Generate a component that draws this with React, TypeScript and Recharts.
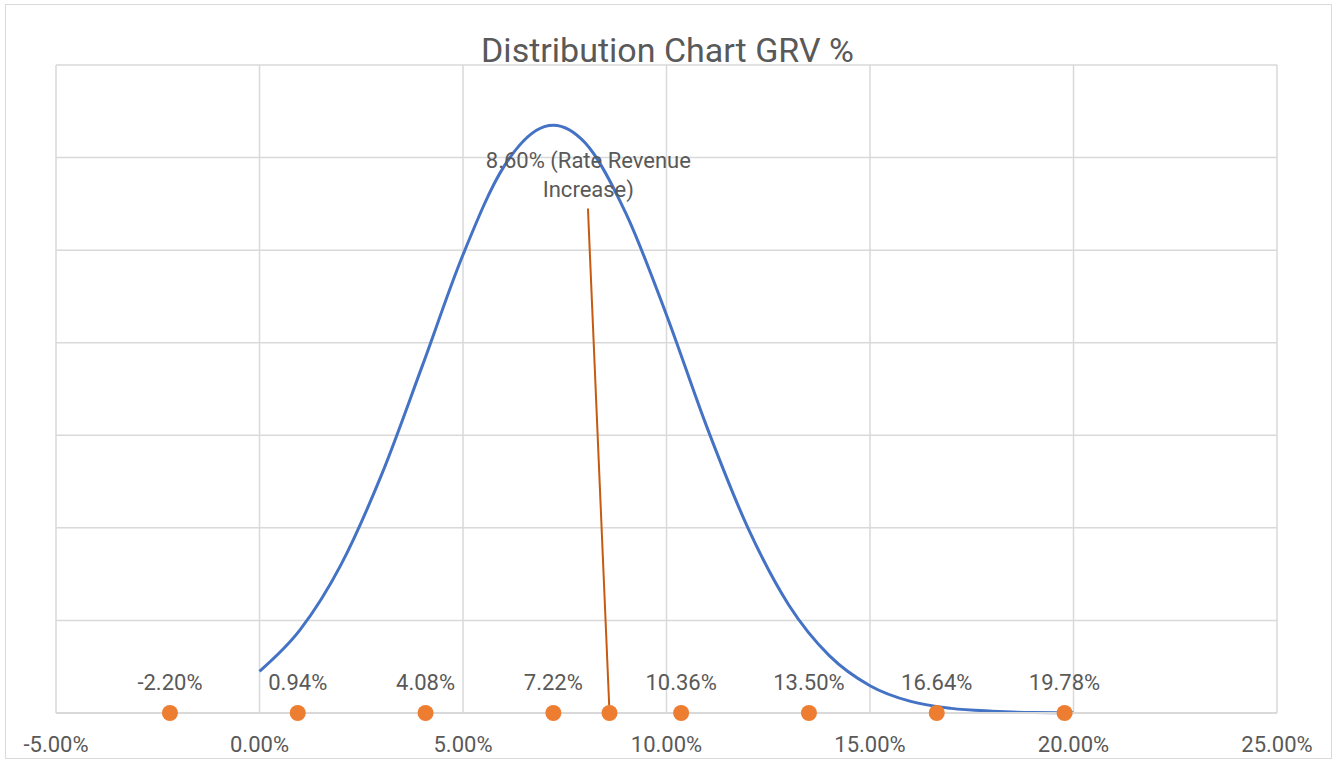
import { ComposedChart, Line, Scatter, XAxis, YAxis, CartesianGrid, LabelList, ReferenceLine, ReferenceDot } from 'recharts'

// density curve (x in %, y = density per %)
const curveX = [0, 1, 2, 3, 4, 5, 6, 7, 7.22, 8, 9, 10, 11, 12, 13, 14, 15, 16, 17, 18, 19, 20]
const curveY = [0.009, 0.018, 0.032, 0.0515, 0.075, 0.099, 0.118, 0.1267, 0.127, 0.1232, 0.108, 0.086, 0.0616, 0.04, 0.0234, 0.0124, 0.0059, 0.0025, 0.001, 0.0004, 0.0001, 0.00003]

// sigma points along the axis
const markerX = [-2.2, 0.94, 4.08, 7.22, 10.36, 13.5, 16.64, 19.78]

const rateX = 8.6
const rateLabel = ['8.60% (Rate Revenue', 'Increase)']

const xTicks = [-5, 0, 5, 10, 15, 20, 25]
const yTicks = [0, 0.02, 0.04, 0.06, 0.08, 0.1, 0.12, 0.14]

const curveData = curveX.map((x, i) => ({ x, y: curveY[i] }))
const markerData = markerX.map((x) => ({ x, y: 0 }))
const rateData = [{ x: rateX, y: 0 }]

const TEXT = '#595959'
const GRID = '#d9d9d9'
const BLUE = '#4472C4'
const ORANGE = '#ED7D31'
const FONT = 'Roboto, sans-serif'

const dot = (props: any) => <circle cx={props.cx} cy={props.cy} r={8} fill={ORANGE} />

const RateText = (props: any) => (
  <text x={props.cx} y={props.cy} textAnchor="middle" fill={TEXT} fontSize={22} fontFamily={FONT}>
    <tspan x={props.cx} dy="0.35em">{rateLabel[0]}</tspan>
    <tspan x={props.cx} dy={29}>{rateLabel[1]}</tspan>
  </text>
)

export default function App() {
  return (
    <div style={{ position: 'absolute', left: 0, top: 0, width: 1335, height: 762, background: '#fff' }}>
      <div style={{ position: 'absolute', left: 5, top: 4, width: 1325, height: 753, border: `1px solid ${GRID}` }} />
      <div
        style={{
          position: 'absolute',
          top: 30,
          left: 0,
          width: 1335,
          textAlign: 'center',
          fontFamily: FONT,
          fontSize: 34,
          color: TEXT,
        }}
      >
        Distribution Chart GRV %
      </div>
      <div style={{ position: 'absolute', left: 0, top: 0 }}>
        <ComposedChart width={1335} height={762} margin={{ top: 65, left: 56, right: 58, bottom: 14 }}>
          <CartesianGrid stroke={GRID} strokeWidth={1.5} />
          <XAxis
            type="number"
            dataKey="x"
            domain={[-5, 25]}
            ticks={xTicks}
            interval={0}
            height={35}
            tickFormatter={(v: number) => v.toFixed(2) + '%'}
            tick={{ fill: TEXT, fontSize: 22, fontFamily: FONT }}
            tickLine={false}
            tickMargin={17}
            axisLine={{ stroke: GRID, strokeWidth: 2 }}
            allowDataOverflow
          />
          <YAxis type="number" dataKey="y" domain={[0, 0.14]} ticks={yTicks} hide />
          <Line
            data={curveData}
            dataKey="y"
            type="monotone"
            stroke={BLUE}
            strokeWidth={3}
            dot={false}
            activeDot={false}
            isAnimationActive={false}
          />
          <ReferenceLine
            segment={[
              { x: rateX, y: 0 },
              { x: 8.07, y: 0.109 },
            ]}
            stroke="#C55A11"
            strokeWidth={2}
          />
          <Scatter data={markerData} dataKey="y" shape={dot} isAnimationActive={false}>
            <LabelList
              dataKey="x"
              position="top"
              offset={18}
              formatter={(v: number) => v.toFixed(2) + '%'}
              style={{ fill: TEXT, fontSize: 22, fontFamily: FONT }}
            />
          </Scatter>
          <Scatter data={rateData} dataKey="y" shape={dot} isAnimationActive={false} />
          <ReferenceDot x={8.08} y={0.1195} r={0} shape={RateText} />
        </ComposedChart>
      </div>
    </div>
  )
}
